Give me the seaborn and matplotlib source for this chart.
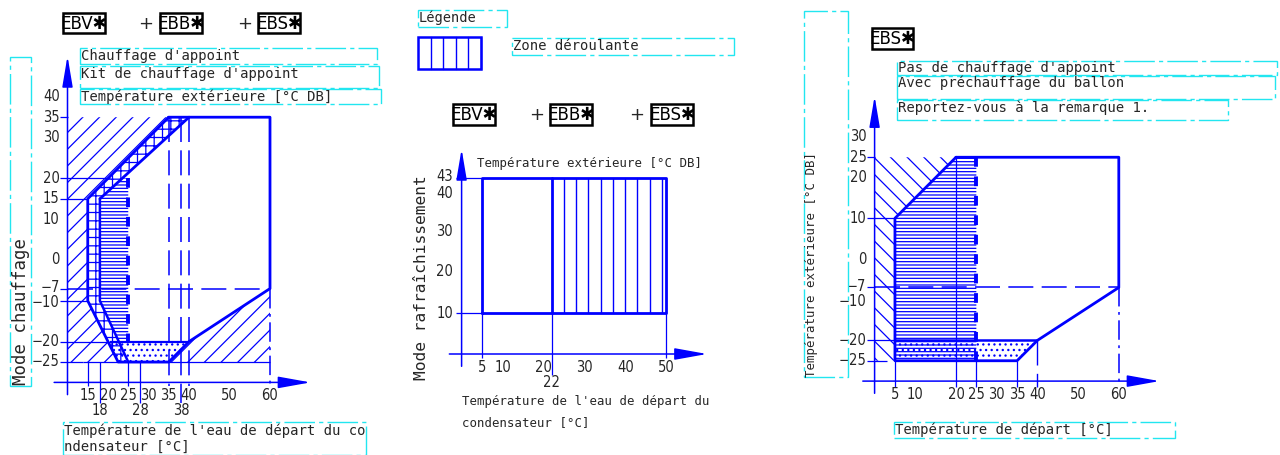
import numpy as np
import matplotlib
matplotlib.use("Agg")
import matplotlib.pyplot as plt
from matplotlib import font_manager as fm
from matplotlib.patches import Polygon, Rectangle
import seaborn as sns

sns.set_theme(style="white")
plt.rcParams['font.family'] = ['DejaVu Sans']
plt.rcParams['hatch.linewidth'] = 0.9
plt.rcParams['lines.scale_dashes'] = False

W, H = 1280, 455
BLUE = '#0000FF'
CYAN = '#22E6F0'
MONO = 'DejaVu Sans Mono'

# pick a narrow sans face for the numbers and the model tags
_faces = {(f.name, f.stretch) for f in fm.fontManager.ttflist}
_names = {n for n, _ in _faces}
if 'Liberation Sans Narrow' in _names:
    NARROW = dict(family=['Liberation Sans Narrow', 'DejaVu Sans'])
    TICK_FS, TAG_FS = 11.5, 15
elif ('DejaVu Sans', 'condensed') in _faces:
    NARROW = dict(family=['DejaVu Sans'], fontstretch='condensed')
    TICK_FS, TAG_FS = 10.5, 13.3
else:
    NARROW = dict(family=['Liberation Sans', 'DejaVu Sans'])
    TICK_FS, TAG_FS = 10.5, 12

# ---------------- heating mode (EBV + EBB + EBS) ----------------
heat_env_x = [35, 60, 60, 40, 35, 22.5, 15, 15, 35]
heat_env_y = [35, 35, -7, -20, -25, -25, -10, 15, 35]
heat_kit_x = [18, 40]          # inner edge of backup-kit band (upper part)
heat_kit_y = [15, 35]
heat_kit_low_x = [18, 18, 25]  # inner edge of backup-kit band (lower part)
heat_kit_low_y = [15, -10, -25]
heat_booster_x = 25            # backup heater limit
heat_booster_y = [20, -20]
heat_low_x = [20.5, 40]
heat_low_y = -20
heat_xticks = [15, 20, 25, 30, 35, 40, 50, 60]
heat_xticks2 = [18, 28, 38]
heat_yticks = [40, 35, 30, 20, 15, 10, 0, -7, -10, -20, -25]

# ---------------- cooling mode ----------------
cool_x = [5, 50]
cool_y = [10, 43]
cool_split = 22
cool_xticks = [5, 10, 20, 30, 40, 50]
cool_xticks2 = [22]
cool_yticks = [43, 40, 30, 20, 10]

# ---------------- tank heating (EBS) ----------------
tank_env_x = [20, 60, 60, 40, 35, 5, 5, 20]
tank_env_y = [25, 25, -7, -20, -25, -25, 10, 25]
tank_low_x = [5, 40]
tank_low_y = -20
tank_booster_x = 25
tank_xticks = [5, 10, 20, 25, 30, 35, 40, 50, 60]
tank_yticks = [30, 25, 20, 10, 0, -7, -10, -20, -25]

# small vertical nudges for crowded tick labels (in data units)
NUDGE_NEG = {-7: 0.35, -10: -0.45}
NUDGE_COOL = {43: 0.35, 40: -0.8}

fig = plt.figure(figsize=(W / 100, H / 100), dpi=100)
fig.patch.set_facecolor('white')


def data_axes(x0, sx, y0, sy):
    """Transparent full-figure axes where pixel_x = x0 + sx*x, pixel_y = y0 - sy*y."""
    ax = fig.add_axes([0, 0, 1, 1])
    ax.axis('off')
    ax.patch.set_alpha(0)
    lims = ((-x0 / sx, (W - x0) / sx), ((y0 - H) / sy, y0 / sy))
    return ax, lims


def fix(ax, lims):
    ax.set_xlim(*lims[0])
    ax.set_ylim(*lims[1])


def zone(ax, pts, hatch):
    ax.add_patch(Polygon(pts, closed=True, fill=False, edgecolor=BLUE,
                         hatch=hatch, lw=0))


def seg(ax, xs, ys, lw=0.9, **kw):
    ax.plot(xs, ys, color=BLUE, lw=lw, solid_capstyle='butt', **kw)


def arrow(ax, start, end, hl=1.9, hw=0.32):
    ax.annotate('', xy=end, xytext=start,
                arrowprops=dict(arrowstyle=f'-|>,head_length={hl},head_width={hw}',
                                color=BLUE, lw=1.1, shrinkA=0, shrinkB=0,
                                mutation_scale=10))


def outline(ax, xs, ys, lw=2.0):
    sns.lineplot(x=xs, y=ys, sort=False, estimator=None, ax=ax,
                 color=BLUE, lw=lw, legend=False)


def num(ax, x, y, s, **kw):
    ax.text(x, y, s, fontsize=TICK_FS, **NARROW, **kw)


def yticklabels(ax, x, values, nudge):
    for v in values:
        num(ax, x, v + nudge.get(v, 0), f"{v}".replace('-', '\u2212'),
            ha='right', va='center')


def ftext(x, y, s, **kw):
    fig.text(x / W, 1 - y / H, s, **kw)


def cbox(l, t, r, b):
    fig.add_artist(Rectangle((l / W, 1 - b / H), (r - l) / W, (b - t) / H,
                             transform=fig.transFigure, fill=False, ec=CYAN,
                             lw=1.0, ls=(0, (22, 3, 3, 3))))


def ebox(l, t, r, b, s):
    fig.add_artist(Rectangle((l / W, 1 - b / H), (r - l) / W, (b - t) / H,
                             transform=fig.transFigure, fill=False, ec='black', lw=1.8))
    ftext((l + r) / 2, (t + b) / 2 + 1, s, ha='center', va='center',
          fontsize=TAG_FS, color='black', **NARROW)


DASH = (0, (18, 6))
BOLD_DASH = (0, (7, 7))
DASHDOT = (0, (14, 4, 2, 4))

# ======================= heating chart =======================
ax1, l1 = data_axes(27, 4.05, 260, 4.08)
zone(ax1, [(10, 35), (35, 35), (15, 15), (15, -10), (22.5, -25), (10, -25)], '//')
zone(ax1, [(35, -25), (40, -20), (60, -7), (60, -25)], '//')
zone(ax1, [(15, 15), (35, 35), (40, 35), (18, 15), (18, -10), (25, -25),
           (22.5, -25), (15, -10)], '++')
zone(ax1, [(18, 15), (18, -10), (22.6, -20), (25, -20), (25, 20), (23.5, 20)], '-----')
zone(ax1, [(heat_low_x[0], heat_low_y), (heat_low_x[1], heat_low_y), (35, -25), (22.5, -25)], '...')

outline(ax1, heat_env_x, heat_env_y)
outline(ax1, heat_kit_x, heat_kit_y)
outline(ax1, heat_kit_low_x, heat_kit_low_y, lw=1.8)
seg(ax1, heat_low_x, [heat_low_y] * 2, lw=1.6)
seg(ax1, [13.8, 60], [-25, -25])
seg(ax1, [10, 60], [-7, -7], lw=1.1, ls=DASH)
for xv, y_end in ((35, -31), (38, -35), (40, -31)):
    seg(ax1, [xv, xv], [35, y_end], lw=1.1, ls=DASH)
seg(ax1, [heat_booster_x] * 2, heat_booster_y, lw=2.8, ls=BOLD_DASH)
seg(ax1, [60, 60], [-7, -31], lw=1.1, ls=DASHDOT)
for xv, y_end in ((15, -31), (18, -35), (25, -31), (28, -35)):
    seg(ax1, [xv, xv], [-25, y_end])
for yv, xe in ((35, 10), (20, 20.5), (15, 15), (-7, 10), (-10, 15), (-20, 20.5), (-25, 13.8)):
    seg(ax1, [8.2, xe], [yv, yv])
arrow(ax1, (10, -33), (10, 50))
arrow(ax1, (6.7, -30), (70, -30), hl=2.0, hw=0.36)
yticklabels(ax1, 8.1, heat_yticks, NUDGE_NEG)
for v in heat_xticks:
    num(ax1, v, -33.2, str(v), ha='center', va='center')
for v in heat_xticks2:
    num(ax1, v, -36.9, str(v), ha='center', va='center')
fix(ax1, l1)

# ======================= cooling chart =======================
ax2, l2 = data_axes(461.6, 4.09, 354, 4.1)
for xv in np.arange(cool_split + 3, cool_x[1], 3):
    seg(ax2, [xv, xv], cool_y, lw=1.0)
outline(ax2, [cool_x[0], cool_x[1], cool_x[1], cool_x[0], cool_x[0]],
        [cool_y[0], cool_y[0], cool_y[1], cool_y[1], cool_y[0]])
outline(ax2, [cool_split, cool_split], cool_y)
for xv in (cool_x[0], cool_x[1]):
    seg(ax2, [xv, xv], [cool_y[0], -1])
seg(ax2, [cool_split, cool_split], [cool_y[0], -5])
for yv in cool_y:
    seg(ax2, [-1.4, cool_x[0]], [yv, yv])
arrow(ax2, (0, -3), (0, 50))
arrow(ax2, (-3, 0), (60, 0), hl=2.0, hw=0.36)
yticklabels(ax2, -2.1, cool_yticks, NUDGE_COOL)
for v in cool_xticks:
    num(ax2, v, -3.2, str(v), ha='center', va='center')
for v in cool_xticks2:
    num(ax2, v, -6.9, str(v), ha='center', va='center')
fix(ax2, l2)

# ======================= tank chart =======================
ax3, l3 = data_axes(874.6, 4.07, 259, 4.07)
zone(ax3, [(0, 25), (20, 25), (5, 10), (5, -25), (0, -25)], '\\\\')
zone(ax3, [(5, -25), (5, 10), (20, 25), (25, 25), (25, -25)], '-----')
zone(ax3, [(5, -25), (5, tank_low_y), (tank_low_x[1], tank_low_y), (35, -25)], '...')
outline(ax3, tank_env_x, tank_env_y)
seg(ax3, tank_low_x, [tank_low_y] * 2, lw=1.8)
seg(ax3, [tank_booster_x] * 2, [25, -25], lw=2.8, ls=BOLD_DASH)
seg(ax3, [20, 20], [25, -31.5])
for xv in (5, 25, 35):
    seg(ax3, [xv, xv], [-25, -31.5])
seg(ax3, [40, 40], [-20, -31.5], lw=1.0, ls=DASH)
seg(ax3, [60, 60], [-7, -31.5], lw=1.1, ls=DASHDOT)
seg(ax3, [0, 60], [-7, -7], lw=1.1, ls=DASH)
for yv, xe in ((25, 0), (10, 5), (-7, 0), (-20, 5), (-25, 3)):
    seg(ax3, [-1.9, xe], [yv, yv])
arrow(ax3, (0, -33), (0, 40))
arrow(ax3, (-2.9, -30), (70, -30), hl=2.0, hw=0.36)
yticklabels(ax3, -2.0, tank_yticks, NUDGE_NEG)
for v in tank_xticks:
    num(ax3, v, -33.2, str(v), ha='center', va='center')
fix(ax3, l3)

# ======================= headers and captions =======================
ebox(63, 13, 105, 33, 'EBV\u2731')
ftext(146, 24, '+', ha='center', va='center', fontsize=13)
ebox(160, 13, 202, 33, 'EBB\u2731')
ftext(245, 24, '+', ha='center', va='center', fontsize=13)
ebox(258, 13, 300, 33, 'EBS\u2731')

ebox(453, 104, 495, 125, 'EBV\u2731')
ftext(537, 115, '+', ha='center', va='center', fontsize=13)
ebox(550, 104, 592, 125, 'EBB\u2731')
ftext(637, 115, '+', ha='center', va='center', fontsize=13)
ebox(651, 104, 693, 125, 'EBS\u2731')

ebox(872, 28, 913, 49, 'EBS\u2731')

# heating captions
cbox(10, 57, 31, 386)
ftext(21, 385, 'Mode chauffage', rotation=90, ha='center', va='bottom',
      fontsize=12.5, family=MONO)
cbox(80, 48, 377, 64)
ftext(81, 56, "Chauffage d'appoint", va='center', fontsize=10, family=MONO)
cbox(80, 66, 379, 88)
ftext(81, 74, "Kit de chauffage d'appoint", va='center', fontsize=10, family=MONO)
cbox(80, 89, 381, 104)
ftext(81, 97, "Température extérieure [°C DB]", va='center', fontsize=10, family=MONO)
cbox(63, 422, 366, 455)
ftext(64, 431, "Température de l'eau de départ du co", va='center', fontsize=10, family=MONO)
ftext(64, 447, "ndensateur [°C]", va='center', fontsize=10, family=MONO)

# legend
cbox(418, 10, 507, 27)
ftext(419, 18, "Légende", va='center', fontsize=9.8, family=MONO)
fig.add_artist(Rectangle((418 / W, 1 - 69 / H), 63 / W, 32 / H, transform=fig.transFigure,
                         fill=False, ec=BLUE, lw=1.8))
for px in np.arange(430.5, 481, 12.5):
    fig.add_artist(plt.Line2D([px / W, px / W], [1 - 69 / H, 1 - 37 / H],
                              transform=fig.transFigure, color=BLUE, lw=1.0))
cbox(512, 38, 734, 55)
ftext(513, 46, "Zone déroulante", va='center', fontsize=10, family=MONO)

# cooling captions
ftext(477, 163, "Température extérieure [°C DB]", va='center', fontsize=8.9, family=MONO)
ftext(421, 380, "Mode rafraîchissement", rotation=90, ha='center', va='bottom',
      fontsize=11.7, family=MONO)
ftext(462, 401, "Température de l'eau de départ du", va='center', fontsize=8.9, family=MONO)
ftext(462, 423, "condensateur [°C]", va='center', fontsize=8.9, family=MONO)

# tank captions
cbox(804, 11, 848, 377)
ftext(812, 377, "Température extérieure [°C DB]", rotation=90, ha='center', va='bottom',
      fontsize=8.9, family=MONO)
cbox(897, 61, 1277, 75)
ftext(898, 68, "Pas de chauffage d'appoint", va='center', fontsize=10, family=MONO)
cbox(897, 76, 1275, 99)
ftext(898, 83, "Avec préchauffage du ballon", va='center', fontsize=10, family=MONO)
cbox(897, 100, 1228, 120)
ftext(898, 108, "Reportez-vous à la remarque 1.", va='center', fontsize=10, family=MONO)
cbox(894, 422, 1175, 438)
ftext(895, 430, "Température de départ [°C]", va='center', fontsize=10, family=MONO)

fig.savefig('out.png', dpi=100)
